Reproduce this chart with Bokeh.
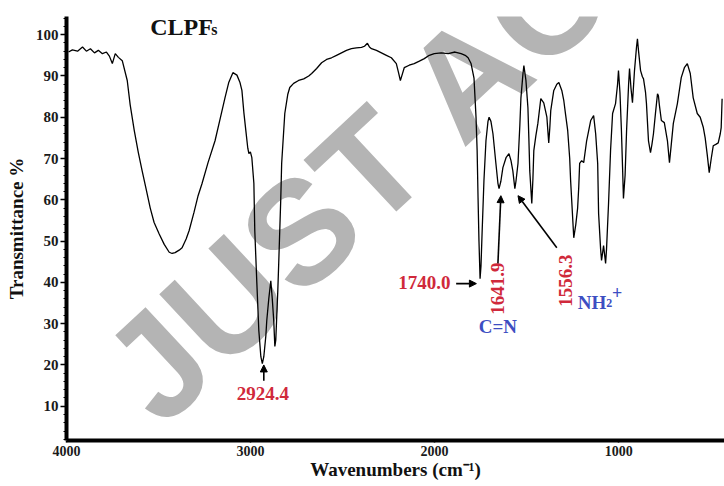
from bokeh.plotting import figure
from bokeh.models import Range1d, FixedTicker, SingleIntervalTicker, Label, Arrow, NormalHead
from bokeh.embed import file_html
from bokeh.resources import INLINE
import math

# ---- data ----
wavenumber = [3989,3968,3940,3913,3892,3870,3848,3827,3805,3783,
              3767,3751,3735,3718,3697,3670,3654,3632,3610,3589,
              3567,3545,3524,3497,3469,3442,3426,3410,3388,3372,
              3350,3334,3307,3285,3264,3231,3193,3166,3139,3118,
              3096,3074,3058,3047,3036,3025,3015,3009,3001,2993,
              2982,2977,2966,2955,2944,2936,2928,2917,2912,2901,
              2890,2882,2874,2868,2863,2852,2847,2836,2831,2814,
              2798,2787,2766,2739,2711,2684,2668,2641,2614,2587,
              2560,2533,2506,2479,2452,2425,2397,2381,2365,2354,
              2343,2316,2289,2262,2235,2208,2197,2186,2175,2165,
              2138,2111,2083,2056,2029,2002,1964,1926,1889,1856,
              1834,1818,1802,1786,1775,1769,1764,1759,1753,1748,
              1742,1732,1721,1710,1704,1694,1683,1667,1656,1650,
              1640,1629,1612,1596,1585,1575,1564,1558,1547,1537,
              1531,1520,1515,1504,1493,1488,1483,1472,1466,1461,
              1450,1439,1423,1407,1390,1380,1374,1369,1353,1336,
              1325,1309,1298,1288,1277,1266,1261,1244,1233,1223,
              1217,1212,1201,1190,1174,1152,1136,1125,1114,1109,
              1098,1093,1082,1071,1066,1055,1044,1033,1017,1006,
              1001,993,985,979,974,965,957,946,941,933,
              925,914,903,898,892,881,871,865,854,849,
              838,827,819,811,800,789,784,779,768,752,
              735,724,714,703,681,660,643,627,611,595,
              573,557,540,530,519,508,497,486,470,459,
              448,443,438]

transmittance = [95.8,96.3,96.0,97.0,96.0,96.6,95.6,96.2,95.4,95.8,
                 94.8,93.0,95.4,94.5,93.7,88.9,83.0,76.8,71.5,67.0,
                 62.5,58.0,54.5,51.8,49.2,47.3,47.0,47.2,47.8,48.4,
                 50.5,52.5,57.0,61.0,63.9,69.0,74.3,79.5,84.7,88.5,
                 90.8,90.2,88.5,86.5,81.0,76.5,72.5,71.2,71.6,70.2,
                 64.0,52.5,40.0,28.3,22.0,20.3,22.0,27.0,30.7,36.0,
                 40.4,36.0,30.7,24.5,26.0,38.0,44.6,60.0,68.8,80.9,
                 85.5,87.2,88.2,88.9,89.3,90.0,90.6,91.8,93.2,94.0,
                 94.4,95.0,95.6,96.2,96.6,96.8,96.9,97.2,97.9,97.0,
                 96.6,96.2,95.6,95.0,94.4,93.0,91.0,88.9,90.5,92.0,
                 92.6,93.0,93.6,94.2,95.0,95.4,95.6,95.4,95.8,95.4,
                 95.0,94.4,93.0,89.5,80.0,72.0,60.5,50.0,40.9,44.0,
                 52.0,64.6,74.3,79.0,80.0,79.0,76.0,68.8,64.0,62.7,
                 64.5,67.8,70.2,71.2,69.5,67.0,62.7,64.5,68.8,78.0,
                 84.7,90.5,92.5,89.0,82.3,75.0,67.0,59.1,65.0,71.9,
                 75.5,78.5,84.5,83.5,80.0,73.8,77.5,81.6,86.4,88.0,
                 88.4,86.5,84.0,80.5,76.8,70.0,64.6,50.8,54.0,58.0,
                 63.0,68.8,69.5,69.0,74.3,79.2,80.4,76.0,68.8,56.7,
                 48.0,45.3,48.9,44.6,48.0,59.1,72.0,80.9,83.3,88.0,
                 91.3,86.0,76.8,68.0,60.3,66.0,76.8,88.0,91.8,87.0,
                 83.5,91.3,97.0,99.0,96.0,91.3,89.8,89.3,86.0,83.3,
                 74.3,71.4,73.5,76.0,81.0,85.7,85.2,83.0,79.2,78.7,
                 74.3,69.0,73.5,78.5,83.3,89.6,92.0,93.0,90.6,84.7,
                 80.9,80.0,77.5,75.0,71.0,66.6,70.0,73.1,73.5,73.8,
                 76.0,77.5,84.5]

x_ticks = [4000, 3000, 2000, 1000]
peak_labels = ["2924.4", "1740.0", "1641.9", "1556.3"]

RED = "#d0293b"
BLUE = "#3d4ec2"
SERIF = "Liberation Serif"

p = figure(width=724, height=486, output_backend="svg", toolbar_location=None,
           x_range=Range1d(4000, 425), y_range=Range1d(1.7, 104.4),
           min_border_left=66, min_border_right=0, min_border_top=16, min_border_bottom=46,
           background_fill_color="white", border_fill_color="white")
p.outline_line_color = None
p.grid.visible = False

# axes
xa = p.xaxis[0]
xa.ticker = FixedTicker(ticks=x_ticks, minor_ticks=[])
xa.axis_line_width = 4
xa.axis_line_color = "black"
xa.major_tick_out = 2
xa.major_tick_in = 0
xa.major_tick_line_width = 1.5
xa.major_label_standoff = 3
xa.major_label_text_font = SERIF
xa.major_label_text_font_style = "bold"
xa.major_label_text_font_size = "14px"
xa.major_label_text_color = "#1a1a1a"
xa.axis_label = "Wavenumbers (cm\u207b\u00b9)"
xa.axis_label_standoff = 0
xa.axis_label_text_font = SERIF
xa.axis_label_text_font_style = "bold"
xa.axis_label_text_font_size = "19px"
xa.axis_label_text_color = "#111111"

ya = p.yaxis[0]
ya.ticker = SingleIntervalTicker(interval=10, num_minor_ticks=5)
ya.axis_line_width = 4
ya.axis_line_color = "black"
ya.major_tick_out = 6
ya.major_tick_in = 0
ya.minor_tick_out = 3
ya.minor_tick_in = 0
ya.major_tick_line_width = 1.5
ya.minor_tick_line_width = 1
ya.major_label_standoff = 2
ya.major_label_text_font = SERIF
ya.major_label_text_font_style = "bold"
ya.major_label_text_font_size = "15px"
ya.major_label_text_color = "#1a1a1a"
ya.axis_label = "Transmittance %"
ya.axis_label_standoff = 6
ya.axis_label_text_font = SERIF
ya.axis_label_text_font_style = "bold"
ya.axis_label_text_font_size = "19px"
ya.axis_label_text_color = "#111111"

# watermark (under the spectrum)
wm = Label(x=3670, y=13.3, text="JUST AC", angle=math.radians(43),
           text_font="Liberation Sans", text_font_style="bold", text_font_size="147px",
           text_color="#b4b4b4", text_align="left", text_baseline="alphabetic", level="underlay")
p.add_layout(wm)

# spectrum
p.line(wavenumber, transmittance, line_color="black", line_width=1.3)

# sample title
p.add_layout(Label(x=3545, y=98.8, text="CLPF", text_font=SERIF, text_font_style="bold",
                   text_font_size="24px", text_color="#111111", text_baseline="bottom"))
p.add_layout(Label(x=3213, y=99.1, text="s", text_font=SERIF, text_font_style="bold",
                   text_font_size="16px", text_color="#111111", text_baseline="bottom"))

def head():
    return NormalHead(size=7, fill_color="black", line_color="black")

# 2924.4
p.add_layout(Label(x=2933, y=13.1, text=peak_labels[0], text_font=SERIF, text_font_style="bold",
                   text_font_size="19px", text_color=RED, text_align="center", text_baseline="middle"))
p.add_layout(Arrow(end=head(), x_start=2928, y_start=16.2, x_end=2928, y_end=20.0,
                   line_color="black", line_width=1.6))

# 1740.0
p.add_layout(Label(x=2056, y=40.0, text=peak_labels[1], text_font=SERIF, text_font_style="bold",
                   text_font_size="19px", text_color=RED, text_align="center", text_baseline="middle"))
p.add_layout(Arrow(end=head(), x_start=1883, y_start=39.7, x_end=1773, y_end=39.7,
                   line_color="black", line_width=1.6))

# 1641.9  C=N
p.add_layout(Label(x=1656, y=38.5, text=peak_labels[2], angle=math.pi / 2, text_font=SERIF,
                   text_font_style="bold", text_font_size="19px", text_color=RED,
                   text_align="center", text_baseline="middle"))
p.add_layout(Arrow(end=head(), x_start=1656, y_start=44.6, x_end=1640, y_end=61.0,
                   line_color="black", line_width=1.6))
p.add_layout(Label(x=1656, y=29.3, text="C=N", text_font=SERIF, text_font_style="bold",
                   text_font_size="19px", text_color=BLUE, text_align="center", text_baseline="middle"))

# 1556.3  NH2+
p.add_layout(Label(x=1288, y=40.4, text=peak_labels[3], angle=math.pi / 2, text_font=SERIF,
                   text_font_style="bold", text_font_size="19px", text_color=RED,
                   text_align="center", text_baseline="middle"))
p.add_layout(Arrow(end=head(), x_start=1336, y_start=48.4, x_end=1547, y_end=61.0,
                   line_color="black", line_width=1.6))
p.add_layout(Label(x=1222, y=35.1, text="NH", text_font=SERIF, text_font_style="bold",
                   text_font_size="19px", text_color=BLUE, text_baseline="alphabetic"))
p.add_layout(Label(x=1068, y=35.1, text="2", text_font=SERIF, text_font_style="bold",
                   text_font_size="12px", text_color=BLUE, text_baseline="alphabetic"))
p.add_layout(Label(x=1036, y=37.6, text="+", text_font=SERIF, text_font_style="bold",
                   text_font_size="18px", text_color=BLUE, text_baseline="alphabetic"))

open("out.html", "w").write(file_html(p, INLINE))
